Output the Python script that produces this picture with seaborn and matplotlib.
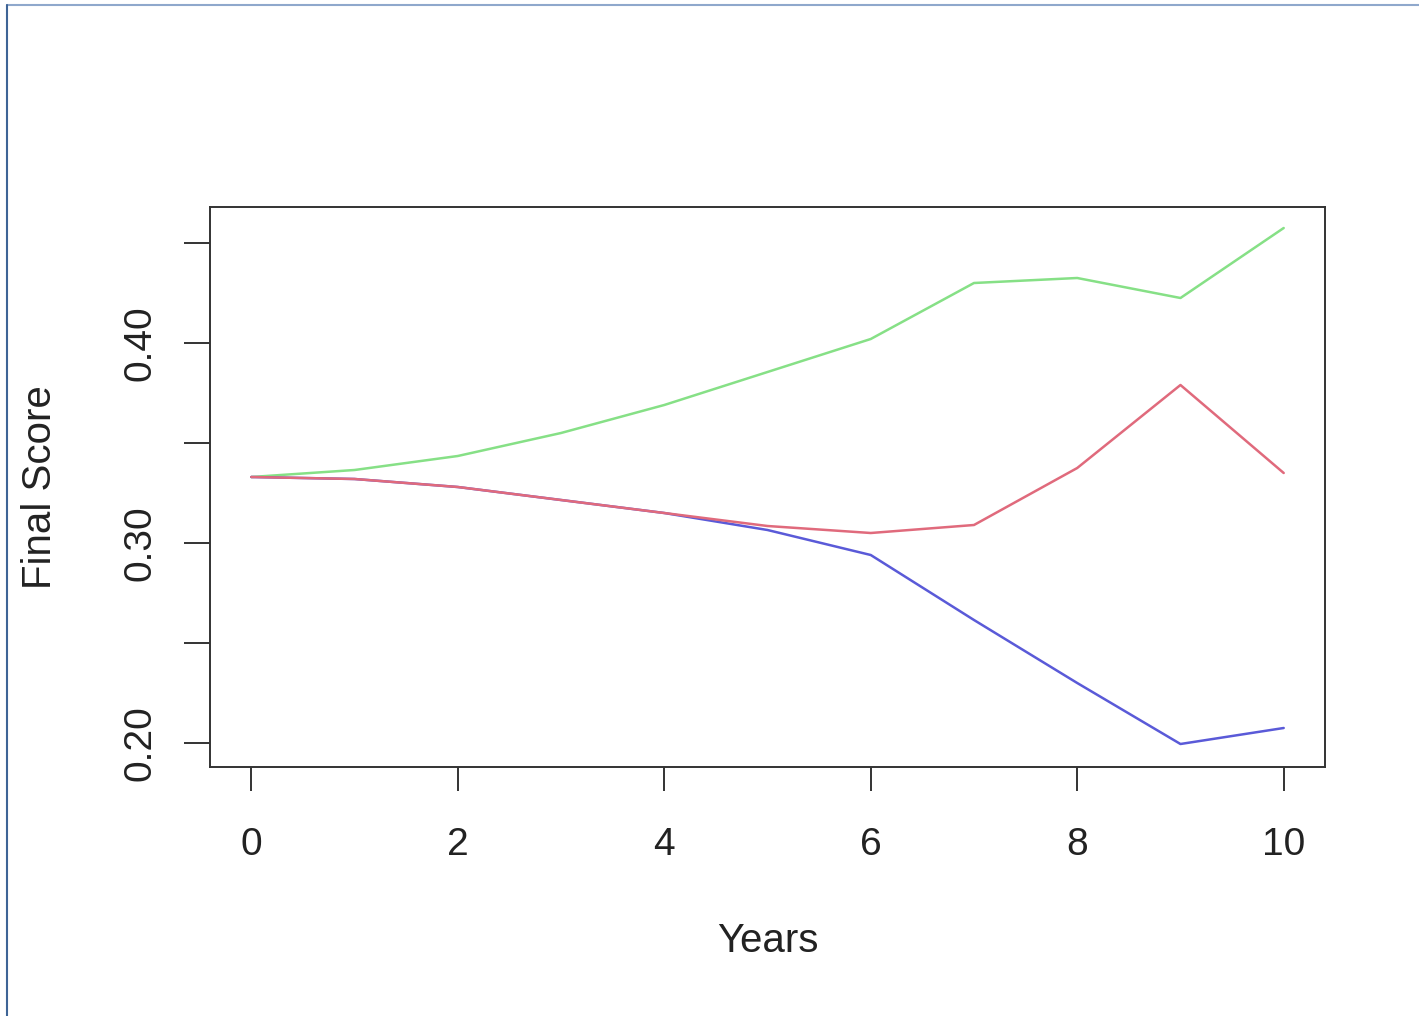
import matplotlib
matplotlib.use("Agg")
import matplotlib.pyplot as plt
from matplotlib.lines import Line2D
import seaborn as sns
import pandas as pd

years = [0, 1, 2, 3, 4, 5, 6, 7, 8, 9, 10]
green_vals = [0.333, 0.3365, 0.3435, 0.355, 0.369, 0.3855, 0.402, 0.430, 0.4325, 0.4225, 0.4575]
blue_vals = [0.333, 0.332, 0.328, 0.3215, 0.315, 0.3065, 0.294, 0.2615, 0.230, 0.1995, 0.2075]
red_vals = [0.333, 0.332, 0.328, 0.3215, 0.315, 0.3085, 0.305, 0.309, 0.3375, 0.379, 0.335]
series_names = ["green", "blue", "red"]
series_colors = ["#86E086", "#5A5AD8", "#E06A7C"]
y_ticks = [0.20, 0.25, 0.30, 0.35, 0.40, 0.45]
y_labels = ["0.20", "", "0.30", "", "0.40", ""]
x_ticks = [0, 2, 4, 6, 8, 10]

rows = []
for name, vals in zip(series_names, [green_vals, blue_vals, red_vals]):
    for x, v in zip(years, vals):
        rows.append({"Years": x, "Score": v, "series": name})
df = pd.DataFrame(rows)

sns.set_style("white")
plt.rcParams["font.family"] = ["Liberation Sans", "DejaVu Sans"]

fig = plt.figure(figsize=(14.19, 10.16), dpi=100)
fig.patch.set_facecolor("white")
ax = fig.add_axes([210 / 1419, 1 - 767 / 1016, (1325 - 210) / 1419, (767 - 207) / 1016])

sns.lineplot(data=df, x="Years", y="Score", hue="series",
             palette=dict(zip(series_names, series_colors)),
             linewidth=1.8, legend=False, ax=ax)

ax.set_xlim(-0.4, 10.4)
ax.set_ylim(0.188, 0.468)
ax.set_xticks(x_ticks)
ax.set_xticklabels([str(t) for t in x_ticks])
ax.set_yticks(y_ticks)
ax.set_yticklabels(y_labels, rotation=90, va="center")

for s in ax.spines.values():
    s.set_visible(True)
    s.set_color("#333333")
    s.set_linewidth(1.4)

ax.tick_params(axis="x", direction="out", length=17, width=1.4, color="#333333",
               labelsize=28, pad=26, bottom=True)
ax.tick_params(axis="y", direction="out", length=19, width=1.4, color="#333333",
               labelsize=28, pad=18, left=True)

ax.set_xlabel("Years", fontsize=29, labelpad=43, color="#222222")
ax.set_ylabel("Final Score", fontsize=29, labelpad=46, color="#222222")
for lab in ax.get_xticklabels() + ax.get_yticklabels():
    lab.set_color("#222222")

# thin frame lines at top and left of the image
fig.add_artist(Line2D([7 / 1419, 1], [1 - 5 / 1016, 1 - 5 / 1016],
                      transform=fig.transFigure, color="#8FA8CC", linewidth=1.5))
fig.add_artist(Line2D([7 / 1419, 7 / 1419], [0, 1 - 5 / 1016],
                      transform=fig.transFigure, color="#3E6496", linewidth=1.5))

fig.savefig("out.png", dpi=100, facecolor="white")
